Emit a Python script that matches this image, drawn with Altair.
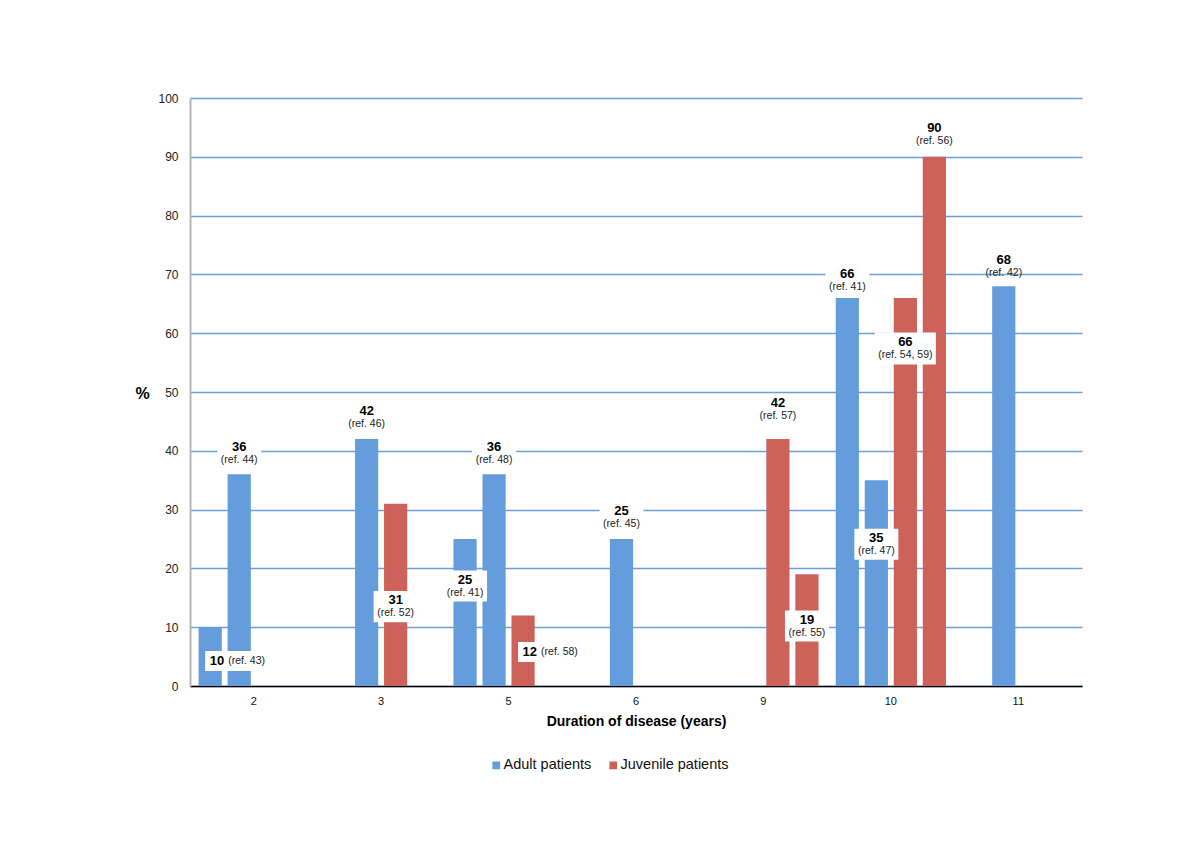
import altair as alt
import pandas as pd

# ---- data ----
categories = ["2", "3", "5", "6", "9", "10", "11"]
bar_category = ["2", "2", "3", "3", "5", "5", "5", "6", "9", "9", "10", "10", "10", "10", "11"]
bar_slot = [0, 1, 1, 2, 0, 1, 2, 1, 2, 3, 0, 1, 2, 3, 1]
percent = [10, 36, 42, 31, 25, 36, 12, 25, 42, 19, 66, 35, 66, 90, 68]
patient_group = ["Adult patients", "Adult patients", "Adult patients", "Juvenile patients",
                 "Adult patients", "Adult patients", "Juvenile patients", "Adult patients",
                 "Juvenile patients", "Juvenile patients", "Adult patients", "Adult patients",
                 "Juvenile patients", "Juvenile patients", "Adult patients"]
references = ["43", "44", "46", "52", "41", "48", "58", "45", "57", "55", "41", "47", "54, 59", "56", "42"]

# ---- label layout (where each annotation sits, in % units) ----
label_y = [4.25, 39.5, 45.6, 13.5, 17.0, 39.5, 5.8, 28.6, 47.0, 10.2, 69.0, 24.1, 57.4, 93.8, 71.4]
label_box = ["inline", "std", "std", "std", "std", "std", "inline", "std", "std", "std",
             "std", "std", "wide", "std", "none"]

groups = ["Adult patients", "Juvenile patients"]
colors = ["#659ddc", "#cd625a"]
FONT = "Liberation Sans"

df = pd.DataFrame({
    "category": bar_category,
    "slot": bar_slot,
    "percent": percent,
    "group": patient_group,
    "ref": references,
    "label_y": label_y,
    "box": label_box,
})
df["ref_text"] = "(ref. " + df["ref"] + ")"
df["value_text"] = df["percent"].astype(str)

# box shapes (unit = 30 px with size 3600)
box_kinds = ["std", "wide", "inline"]
box_paths = [
    "M-0.733,-0.517H0.733V0.517H-0.733Z",
    "M-1.017,-0.533H1.017V0.533H-1.017Z",
    "M-0.167,-0.333H1.767V0.333H-0.167Z",
]

x_enc = alt.X(
    "category:N",
    scale=alt.Scale(domain=categories, paddingInner=0.135, paddingOuter=0.0675),
    sort=categories,
    title="Duration of disease (years)",
    axis=alt.Axis(labelAngle=0, ticks=False, domainColor="#000000", domainWidth=1.5,
                  labelFontSize=11, labelColor="#111111", labelPadding=9,
                  titleFontSize=14, titleFontWeight="bold", titlePadding=8,
                  titleColor="#000000", grid=False),
)
xo_enc = alt.XOffset("slot:N", scale=alt.Scale(domain=[0, 1, 2, 3], paddingInner=0.2, paddingOuter=0))
y_axis = alt.Axis(values=list(range(0, 101, 10)), ticks=False, grid=True, gridColor="#6d9fd8",
                  gridWidth=1.4, domainColor="#b5b5b5", domainWidth=2, labelFontSize=12,
                  labelColor="#222222", labelPadding=12, title="%", titleAngle=0,
                  titleFontSize=16, titleFontWeight="bold", titleColor="#000000",
                  titleX=-48, titleY=295, titleAlign="center", titleBaseline="middle")
y_scale = alt.Scale(domain=[0, 100], nice=False)

base = alt.Chart(df)

bars = base.mark_bar().encode(
    x=x_enc,
    xOffset=xo_enc,
    y=alt.Y("percent:Q", scale=y_scale, axis=y_axis),
    color=alt.Color("group:N", scale=alt.Scale(domain=groups, range=colors),
                    legend=alt.Legend(title=None, orient="none", legendX=299, legendY=660,
                                      direction="horizontal", symbolType="square",
                                      symbolSize=60, labelFontSize=14.5, labelColor="#111111",
                                      labelOffset=0, columnPadding=14, symbolStrokeWidth=0)),
)

boxes = base.transform_filter(alt.datum.box != "none").mark_point(
    filled=True, fill="white", opacity=1, strokeWidth=0, size=3600
).encode(
    x=x_enc,
    xOffset=xo_enc,
    y=alt.Y("label_y:Q", scale=y_scale, axis=y_axis),
    shape=alt.Shape("box:N", scale=alt.Scale(domain=box_kinds, range=box_paths), legend=None),
)

stacked = base.transform_filter(alt.datum.box != "inline")
inline = base.transform_filter(alt.datum.box == "inline")

val_txt = stacked.mark_text(font=FONT, fontSize=13, fontWeight="bold", dy=-6.5, color="#000000").encode(
    x=x_enc, xOffset=xo_enc, y=alt.Y("label_y:Q", scale=y_scale, axis=y_axis), text="value_text:N")
ref_txt = stacked.mark_text(font=FONT, fontSize=10.5, dy=6.5, color="#222222").encode(
    x=x_enc, xOffset=xo_enc, y=alt.Y("label_y:Q", scale=y_scale, axis=y_axis), text="ref_text:N")
val_in = inline.mark_text(font=FONT, fontSize=13, fontWeight="bold", align="right", dx=14,
                          color="#000000").encode(
    x=x_enc, xOffset=xo_enc, y=alt.Y("label_y:Q", scale=y_scale, axis=y_axis), text="value_text:N")
ref_in = inline.mark_text(font=FONT, fontSize=10.5, align="left", dx=18, color="#222222").encode(
    x=x_enc, xOffset=xo_enc, y=alt.Y("label_y:Q", scale=y_scale, axis=y_axis), text="ref_text:N")

chart = alt.layer(bars, boxes, val_txt, ref_txt, val_in, ref_in).properties(
    width=892, height=588,
    padding={"left": 182, "top": 90, "right": 110, "bottom": 154},
    autosize=alt.AutoSizeParams(type="none"),
    background="white",
).configure(font=FONT).configure_view(stroke=None)

chart.save("out.html", embed_options={"renderer": "svg", "actions": False})
